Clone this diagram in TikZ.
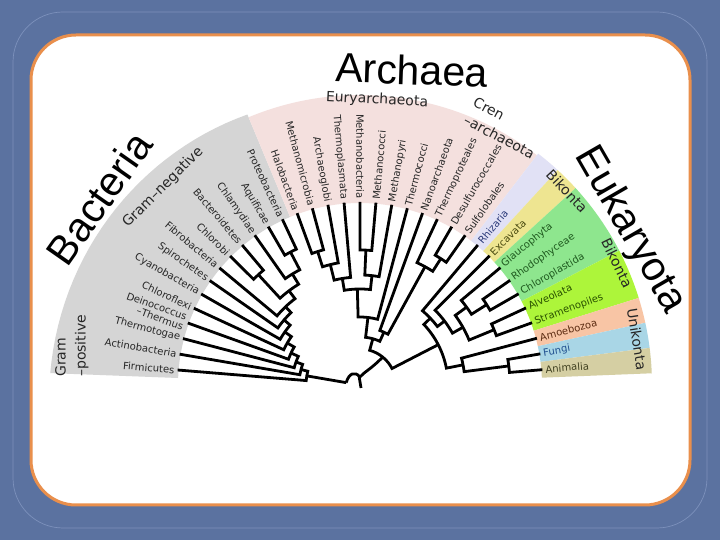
\documentclass[tikz,border=0pt]{standalone}
\usepackage{fontspec}
\setmainfont{DejaVu Sans}
\newfontfamily\bigfont{Liberation Sans}
\definecolor{bg}{HTML}{5B72A0}
\definecolor{bgline}{HTML}{7D91BC}
\definecolor{frame}{HTML}{E98F4C}
\definecolor{gband}{HTML}{D5D5D5}
\definecolor{pband}{HTML}{F4E0DE}
\definecolor{lav}{HTML}{E1E1F5}
\definecolor{yel}{HTML}{EEE591}
\definecolor{grn}{HTML}{8EE68E}
\definecolor{lime}{HTML}{ADF53A}
\definecolor{peach}{HTML}{F8C5A5}
\definecolor{lblue}{HTML}{A9D6E6}
\definecolor{tanb}{HTML}{D5CFA3}
\definecolor{rhz}{HTML}{2B3A7A}
\definecolor{exc}{HTML}{4A4A10}
\definecolor{dgr}{HTML}{1F5A1F}
\definecolor{dlime}{HTML}{2A5200}
\definecolor{amb}{HTML}{5A2A10}
\definecolor{fng}{HTML}{1F4F8F}
\definecolor{anm}{HTML}{3F3F1F}
\tikzset{
  br/.style={line width=2.8pt, line join=miter},
  lab/.style={font=\fontsize{10}{10.5}\selectfont, inner sep=0pt},
  grp/.style={font=\fontsize{14}{20}\selectfont, inner sep=0pt, text=black!85},
  big/.style={font=\bigfont\fontsize{41}{43}\selectfont, inner sep=0pt},
}
\newcommand\clade[6]{%
  \draw[br] (#2) -- (#3:#6) arc[start angle=#3, end angle=#5, radius=#6pt] -- (#4);
  \coordinate (#1) at ({(#3+#5)/2}:#6);
}
\newcommand\leafL[4]{%
  \coordinate (t#1) at (#2:183);
  \node[lab, text=#4, rotate={#2-180}, anchor=east] (n#1) at (#2:186) {#3};
}
\newcommand\leafR[4]{%
  \coordinate (t#1) at (#2:183);
  \node[lab, text=#4, rotate=#2, anchor=west] (n#1) at (#2:186) {#3};
}
\newcommand\mkband[4]{%
  \fill[#1] (#2:182) arc[start angle=#2, end angle=#3, radius=182pt] -- (#3:#4) arc[start angle=#3, end angle=#2, radius=#4pt] -- cycle;
}
\begin{document}
\begin{tikzpicture}[x=1pt,y=1pt]
\useasboundingbox (0,0) rectangle (720,540);
\fill[bg] (0,0) rectangle (720,540);
\draw[bgline, line width=0.7pt, rounded corners=50] (13,12) rectangle (707,528);
\draw[fill=white, draw=frame, line width=3pt, rounded corners=45] (31,35) rectangle (690,505);

\begin{scope}[shift={(360,155)}]
% bands
\fill[gband] (177.8:182) arc[start angle=177.8, end angle=112.6, radius=182pt]
  -- plot[domain=112.6:177.8, samples=30] (\x:{293+17*(\x-112.6)/65.2}) -- cycle;
\mkband{pband}{112.6}{52.4}{290}
\mkband{lav}{52.4}{47.4}{292}
\mkband{yel}{47.4}{42.4}{292}
\mkband{grn}{42.4}{27.4}{292}
\mkband{lime}{27.4}{17.35}{292}
\mkband{peach}{17.35}{12.3}{292}
\mkband{lblue}{12.3}{7.3}{292}
\mkband{tanb}{7.3}{2.3}{292}

% leaves
\leafL{1}{175.3}{Firmicutes}{black!85}
\leafL{2}{170.3}{Actinobacteria}{black!85}
\leafL{3}{165.3}{Thermotogae}{black!85}
\coordinate (t4) at (160.2:183);
\node[lab, text=black!85, rotate=-19.8, anchor=east, align=right] (n4) at (160.2:186) {Deinococcus\\–Thermus};
\leafL{5}{155.2}{Chloroflexi}{black!85}
\leafL{6}{150.2}{Cyanobacteria}{black!85}
\leafL{7}{145.2}{Spirochetes}{black!85}
\leafL{8}{140.2}{Fibrobacteria}{black!85}
\leafL{9}{135.2}{Chlorobi}{black!85}
\leafL{10}{130.1}{Bacteroidetes}{black!85}
\leafL{11}{125.1}{Chlamydiae}{black!85}
\leafL{12}{120.1}{Aquificae}{black!85}
\leafL{13}{115.1}{Proteobacteria}{black!85}
\leafL{14}{110.1}{Halobacteria}{black!85}
\leafL{15}{105.1}{Methanomicrobia}{black!85}
\leafL{16}{100.1}{Archaeoglobi}{black!85}
\leafL{17}{95.0}{Thermoplasmata}{black!85}
\leafL{18}{90.0}{Methanobacteria}{black!85}
\leafR{19}{85.0}{Methanococci}{black!85}
\leafR{20}{80.0}{Methanopyri}{black!85}
\leafR{21}{75.0}{Thermococci}{black!85}
\leafR{22}{70.0}{Nanoarchaeota}{black!85}
\leafR{23}{65.0}{Thermoproteales}{black!85}
\leafR{24}{59.9}{Desulfurococcales}{black!85}
\leafR{25}{54.9}{Sulfolobales}{black!85}
\leafR{26}{49.9}{Rhizaria}{rhz}
\leafR{27}{44.9}{Excavata}{exc}
\leafR{28}{39.9}{Glaucophyta}{dgr}
\leafR{29}{34.9}{Rhodophyceae}{dgr}
\leafR{30}{29.9}{Chloroplastida}{dgr}
\leafR{31}{24.9}{Alveolata}{dlime}
\leafR{32}{19.9}{Stramenopiles}{dlime}
\leafR{33}{14.8}{Amoebozoa}{amb}
\leafR{34}{9.8}{Fungi}{fng}
\leafR{35}{4.8}{Animalia}{anm}

% Bacteria
\clade{B11}{t12}{120.1}{t13}{115.1}{150}
\clade{B10}{t11}{125.1}{B11}{117.6}{130}
\clade{CB}{t9}{135.2}{t10}{130.1}{150}
\clade{B9}{CB}{132.65}{B10}{121.35}{118}
\clade{B8}{t8}{140.2}{B9}{127.0}{108}
\clade{B7}{t7}{145.2}{B8}{133.6}{100}
\clade{B6}{t6}{150.2}{B7}{139.4}{92}
\clade{B5}{t5}{155.2}{B6}{144.8}{84}
\clade{B4}{t4}{160.2}{B5}{150.0}{76}
\clade{B3}{t3}{165.3}{B4}{155.1}{68}
\clade{B2}{t2}{170.3}{B3}{160.2}{61}
\clade{B1}{t1}{175.3}{B2}{165.25}{54}
\coordinate (BS) at (170.28:14);
\draw[br] (B1) -- (BS);

% Archaea
\clade{HM}{t14}{110.1}{t15}{105.1}{140}
\clade{HMA}{HM}{107.6}{t16}{100.1}{124}
\clade{HMAT}{HMA}{103.85}{t17}{95.0}{108}
\clade{MM}{t18}{90.0}{t19}{85.0}{135}
\clade{MMP}{MM}{87.5}{t20}{80.0}{110}
\clade{E1}{HMAT}{99.43}{MMP}{83.75}{96}
\clade{E2}{E1}{91.59}{t21}{75.0}{68}
\clade{DS}{t24}{59.9}{t25}{54.9}{150}
\clade{CR}{t23}{65.0}{DS}{57.4}{135}
\clade{NC}{t22}{70.0}{CR}{61.2}{58}
\clade{AR}{E2}{83.3}{NC}{65.6}{48}

% Eukaryota
\clade{FA}{t34}{9.8}{t35}{4.8}{150}
\clade{UN}{t33}{14.8}{FA}{7.3}{105}
\clade{AS}{t31}{24.9}{t32}{19.9}{145}
\clade{RC}{t29}{34.9}{t30}{29.9}{150}
\clade{PL}{t28}{39.9}{RC}{32.4}{132}
\clade{PAS}{PL}{36.15}{AS}{22.4}{118}
\clade{BX}{t27}{44.9}{PAS}{29.28}{106}
\clade{BK}{t26}{49.9}{BX}{37.09}{97}
\clade{EU}{BK}{43.5}{UN}{11.05}{88}

% Archaea + Eukaryota
\clade{AE}{AR}{74.45}{EU}{27.27}{36}

% root
\draw[br] (BS) .. controls (-11,12) and (-5,14) .. (0,8) .. controls (4,13) and (10,15) .. (AE);
\coordinate (rt1) at (-1,9);
\coordinate (rt2) at (1,-3);
\draw[br] (rt1) -- (rt2);

% group labels
\node[grp, rotate=44.9] (gneg) at (134.9:279) {Gram–negative};
\node[grp, rotate=90, align=left, anchor=north west] (gpos) at (-305,8) {Gram\\–positive};
\node[grp, rotate=-3] (eury) at (17,285) {Euryarchaeota};
\node[grp, rotate=-28, align=left] (cren) at (144,257) {Cren\\–archaeota};
\node[grp, rotate=-47] (bik1) at (207,194) {Bikonta};
\node[grp, rotate=-64] (bik2) at (257,122) {Bikonta};
\node[grp, rotate=-81] (unik) at (277,46) {Unikonta};

% domain labels
\node[big, rotate=-2] (arch) at (52,315) {Archaea};
\node[big, rotate=55] (bact) at (-261,187) {Bacteria};
\node[big, rotate=-60] (euk) at (270,155) {Eukaryota};
\end{scope}
\end{tikzpicture}
\end{document}
